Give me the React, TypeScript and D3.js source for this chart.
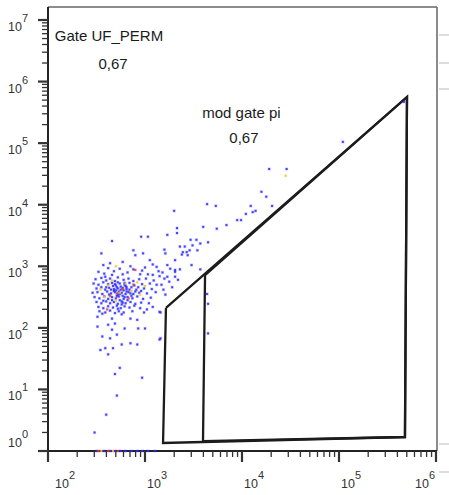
import React from "react";
import * as d3 from "d3";

const W = 449;
const H = 495;

// Axis decades (log10 exponents)
const xDecades = [2, 3, 4, 5, 6];
const yDecades = [0, 1, 2, 3, 4, 5, 6, 7];

// Gate labels (positions in log10 data space)
const gateLabels = [
  { name: "Gate UF_PERM", value: "0,67", lx: 2.07, ly: 6.66, vx: 2.67, vy: 6.2, anchor: "start" },
  { name: "mod gate pi", value: "0,67", lx: 3.59, ly: 5.41, vx: 4.02, vy: 5.0, anchor: "start" },
];

// Gate polygons, vertices as log10(x), log10(y)
const gateModPi: [number, number][] = [
  [3.216, 2.323],
  [5.701, 5.75],
  [5.68, 0.227],
  [3.186, 0.13],
];
const gateUfPerm: [number, number][] = [
  [3.619, 2.855],
  [5.701, 5.75],
  [5.68, 0.227],
  [3.598, 0.162],
];

// Events as [log10(x), log10(y)]
const blueEvents: [number, number][] = [
  [5.67, 5.67], [5.04, 5.02], [4.28, 4.58], [4.46, 4.58], [4.2, 4.21], [4.25, 4.13],
  [4.31, 3.98], [4.09, 3.98], [4.11, 3.88], [4.14, 3.9], [4.04, 3.85], [3.64, 4.01],
  [3.73, 3.98], [3.95, 3.75], [3.99, 3.75], [3.84, 3.67], [3.74, 3.61], [3.6, 3.64],
  [3.65, 3.39], [3.57, 3.37], [3.53, 3.43], [3.47, 3.43], [3.49, 3.34], [3.41, 3.32],
  [3.36, 3.32], [3.54, 3.26], [3.46, 3.26], [3.43, 3.23], [3.38, 3.19], [3.44, 3.18],
  [3.48, 3.02], [3.57, 2.95], [3.3, 3.9], [3.23, 3.51], [3.33, 3.54], [3.03, 3.48],
  [2.96, 3.48], [3.33, 3.62], [2.66, 3.41], [2.88, 3.26], [2.55, 3.21], [2.98, 3.21],
  [3.2, 3.27], [3.21, 3.21], [3.39, 3.23], [2.9, 3.18], [2.64, 3.05], [2.57, 3.02],
  [2.77, 3.07], [2.88, 2.95], [3.05, 3.1], [3.08, 3.03], [3.12, 2.99], [3.23, 3.02],
  [3.31, 3.1], [3.31, 2.94], [3.36, 2.95], [2.77, 2.87], [2.66, 2.86], [2.52, 2.91],
  [2.59, 2.83], [2.95, 2.87], [3.03, 2.87], [3.08, 2.86], [3.15, 2.84], [3.23, 2.83],
  [3.31, 2.83], [3.64, 2.55], [3.65, 2.39], [3.16, 2.25], [3.21, 2.54], [3.34, 2.78],
  [3.31, 2.91], [3.65, 1.91], [3.15, 2.26], [3.16, 1.83], [2.72, 2.31], [3.02, 2.3],
  [2.51, 2.18], [2.56, 2.23], [2.66, 2.15], [2.76, 2.22], [2.85, 2.15], [2.92, 2.13],
  [2.69, 2.07], [2.62, 2.05], [2.51, 2.02], [2.79, 1.99], [2.93, 1.99], [3.0, 1.99],
  [2.66, 1.97], [2.71, 1.89], [2.56, 1.86], [2.64, 1.83], [2.85, 1.75], [2.76, 1.73],
  [2.92, 1.73], [2.59, 1.67], [2.67, 1.67], [2.54, 1.64], [3.15, 1.81], [2.62, 1.57],
  [2.74, 1.35], [2.69, 1.25], [2.97, 1.19], [2.71, 0.9], [2.6, 0.59], [2.48, 0.3],
  [2.49, 2.79], [2.55, 2.81], [2.6, 2.77], [2.64, 2.8], [2.69, 2.76], [2.72, 2.82],
  [2.78, 2.78], [2.83, 2.8], [2.88, 2.76], [2.94, 2.79], [3.01, 2.8], [3.09, 2.77],
  [2.47, 2.72], [2.52, 2.7], [2.57, 2.74], [2.62, 2.71], [2.66, 2.73], [2.7, 2.69],
  [2.74, 2.72], [2.79, 2.7], [2.84, 2.73], [2.89, 2.69], [2.97, 2.71], [3.05, 2.72],
  [3.12, 2.7], [2.5, 2.64], [2.55, 2.66], [2.59, 2.62], [2.63, 2.65], [2.68, 2.63],
  [2.71, 2.66], [2.75, 2.62], [2.77, 2.65], [2.81, 2.63], [2.86, 2.66], [2.91, 2.62],
  [2.99, 2.64], [3.07, 2.63], [2.46, 2.57], [2.51, 2.58], [2.56, 2.55], [2.61, 2.59],
  [2.65, 2.56], [2.69, 2.58], [2.72, 2.54], [2.76, 2.57], [2.8, 2.55], [2.83, 2.58],
  [2.88, 2.55], [2.94, 2.57], [3.02, 2.56], [3.11, 2.58], [2.48, 2.5], [2.53, 2.48],
  [2.58, 2.51], [2.62, 2.47], [2.66, 2.5], [2.7, 2.48], [2.73, 2.51], [2.78, 2.47],
  [2.82, 2.5], [2.87, 2.48], [2.92, 2.51], [2.98, 2.47], [3.06, 2.49], [2.5, 2.42],
  [2.55, 2.4], [2.6, 2.43], [2.64, 2.4], [2.68, 2.42], [2.72, 2.39], [2.76, 2.43],
  [2.8, 2.4], [2.85, 2.42], [2.9, 2.39], [2.96, 2.41], [3.04, 2.4], [2.52, 2.34],
  [2.57, 2.32], [2.62, 2.35], [2.67, 2.33], [2.71, 2.36], [2.75, 2.32], [2.79, 2.35],
  [2.84, 2.33], [2.89, 2.36], [2.95, 2.32], [3.08, 2.34], [2.53, 2.27], [2.59, 2.25],
  [2.64, 2.28], [2.69, 2.24], [2.73, 2.27], [2.78, 2.25], [2.87, 2.27], [2.99, 2.25],
  [2.7, 2.61], [2.73, 2.59], [2.75, 2.67], [2.78, 2.61], [2.8, 2.68], [2.74, 2.45],
  [2.77, 2.52], [2.81, 2.59], [2.84, 2.62], [2.71, 2.52], [2.67, 2.68], [2.86, 2.52],
  [2.79, 2.73], [2.68, 2.6], [2.82, 2.45], [2.76, 2.38], [2.66, 2.45], [2.9, 2.59],
  [2.93, 2.66], [2.63, 2.54], [2.58, 2.88], [2.68, 2.92], [2.74, 2.96], [2.82, 2.9],
  [2.97, 2.93], [3.0, 2.98], [3.18, 2.9], [3.26, 2.96], [2.62, 2.97], [3.14, 2.92],
  [2.85, 3.0], [3.2, 2.8], [3.17, 2.7], [3.25, 2.75], [3.19, 2.62], [3.28, 2.66],
  [2.72, 2.64], [2.74, 2.55], [2.69, 2.71], [2.81, 2.66], [2.77, 2.41], [2.65, 2.62],
  [2.85, 2.56], [2.6, 2.66], [2.72, 2.74], [2.96, 2.6], [2.57, 2.44], [2.79, 2.5],
  [2.5, 0], [2.58, 0], [2.64, 0], [2.69, 0], [2.75, 0], [2.8, 0], [2.86, 0], [2.92, 0],
  [2.97, 0], [3.03, 0], [3.1, 0],
];
const yellowEvents: [number, number][] = [
  [2.62, 2.69], [2.8, 2.72], [2.74, 2.57], [2.58, 2.5], [2.92, 2.74], [2.7, 2.44],
  [2.86, 2.6], [2.54, 2.62], [3.0, 2.68], [2.66, 2.77], [2.95, 2.54], [2.7, 3.0],
  [4.45, 4.47], [2.55, 0], [2.67, 0],
];
const redEvents: [number, number][] = [
  [2.77, 2.63], [2.64, 2.52], [2.88, 2.7], [2.61, 2.3], [2.9, 2.94], [2.71, 2.56],
  [2.83, 2.48], [2.52, 0], [2.62, 0], [2.72, 0],
];

// Stray marks at the right border (neighbouring panel ticks), in pixel rows
const strayRightTicks = [35, 63, 89, 444, 472];

const FONT = "'Liberation Sans', Arial, Helvetica, sans-serif";

export default function App() {
  const left = 48;
  const right = 437;
  const top = 7;
  const bottom = 451;
  const x = d3.scaleLog().domain([1e2, 1e6]).range([left, 436]);
  const y = d3.scaleLog().domain([1, 1e7]).range([bottom, 20]);
  const px = (p: [number, number]) => x(Math.pow(10, p[0]));
  const py = (p: [number, number]) => y(Math.pow(10, p[1]));

  const isMajor = (v: number) => Math.abs(Math.log10(v) - Math.round(Math.log10(v))) < 1e-9;
  const xTicks = x.ticks();
  const yTicks = y.ticks();

  const line = d3.line<[number, number]>().x(px).y(py);
  const poly = (pts: [number, number][]) => line([...pts, pts[0]]) as string;

  const dot = (p: [number, number], i: number, fill: string) => (
    <g key={i}>
      <rect x={px(p) - 1.6} y={py(p) - 1.6} width={3.2} height={3.2} fill={fill} opacity={0.22} />
      <rect x={px(p) - 1} y={py(p) - 1} width={2} height={2} fill={fill} opacity={0.85} />
    </g>
  );

  return (
    <svg width={W} height={H} style={{ position: "absolute", left: 0, top: 0, background: "#fff" }} fontFamily={FONT}>
      <rect x={0} y={0} width={W} height={H} fill="#fff" />
      {/* frame */}
      <line x1={left} x2={right} y1={top} y2={top} stroke="#666" strokeWidth={1.5} />
      <line x1={right} x2={right} y1={top} y2={bottom} stroke="#666" strokeWidth={1.5} />
      {strayRightTicks.map((v, i) => (
        <line key={i} x1={right + 2} x2={W} y1={v} y2={v} stroke="#bbb" strokeWidth={1} />
      ))}

      {/* gates */}
      <path d={poly(gateModPi)} fill="none" stroke="#1c1c1c" strokeWidth={2.3} strokeLinejoin="miter" />
      <path d={poly(gateUfPerm)} fill="none" stroke="#1c1c1c" strokeWidth={2.3} strokeLinejoin="miter" />

      {/* axes */}
      <line x1={left} x2={left} y1={top} y2={bottom + 1} stroke="#222" strokeWidth={2} />
      <line x1={left - 1} x2={right} y1={bottom} y2={bottom} stroke="#222" strokeWidth={2} />
      {yTicks.map((v, i) => {
        const major = isMajor(v);
        return (
          <line key={i} x1={major ? left - 10 : left - 6} x2={left} y1={y(v)} y2={y(v)}
            stroke="#333" strokeWidth={major ? 2.2 : 1.3} />
        );
      })}
      {xTicks.map((v, i) => {
        const major = isMajor(v);
        return (
          <line key={i} x1={x(v)} x2={x(v)} y1={bottom} y2={major ? bottom + 11 : bottom + 6}
            stroke="#333" strokeWidth={major ? 2.2 : 1.3} />
        );
      })}

      {/* y labels */}
      {yDecades.map((d) => {
        const base = Math.min(y(Math.pow(10, d)) + 11, 447);
        return (
          <text key={d} x={8} y={base} fontSize={12.5} fill="#333">
            10
            <tspan fontSize={11} dy={-9}>{d}</tspan>
          </text>
        );
      })}
      {/* x labels */}
      {xDecades.map((d) => {
        const tx = Math.max(Math.min(x(Math.pow(10, d)) + 2, 415), 55);
        return (
          <text key={d} x={tx} y={488} fontSize={12.5} fill="#333">
            10
            <tspan fontSize={11} dy={-9}>{d}</tspan>
          </text>
        );
      })}

      {/* events */}
      {blueEvents.map((p, i) => dot(p, i, "#2a2aff"))}
      {yellowEvents.map((p, i) => dot(p, i + 1000, "#f2c230"))}
      {redEvents.map((p, i) => dot(p, i + 2000, "#e0403a"))}

      {/* gate labels */}
      {gateLabels.map((g, i) => (
        <g key={i} fill="#1a1a1a" fontSize={15}>
          <text x={x(Math.pow(10, g.lx))} y={y(Math.pow(10, g.ly))}>{g.name}</text>
          <text x={x(Math.pow(10, g.vx))} y={y(Math.pow(10, g.vy))} textAnchor="middle">{g.value}</text>
        </g>
      ))}
    </svg>
  );
}
